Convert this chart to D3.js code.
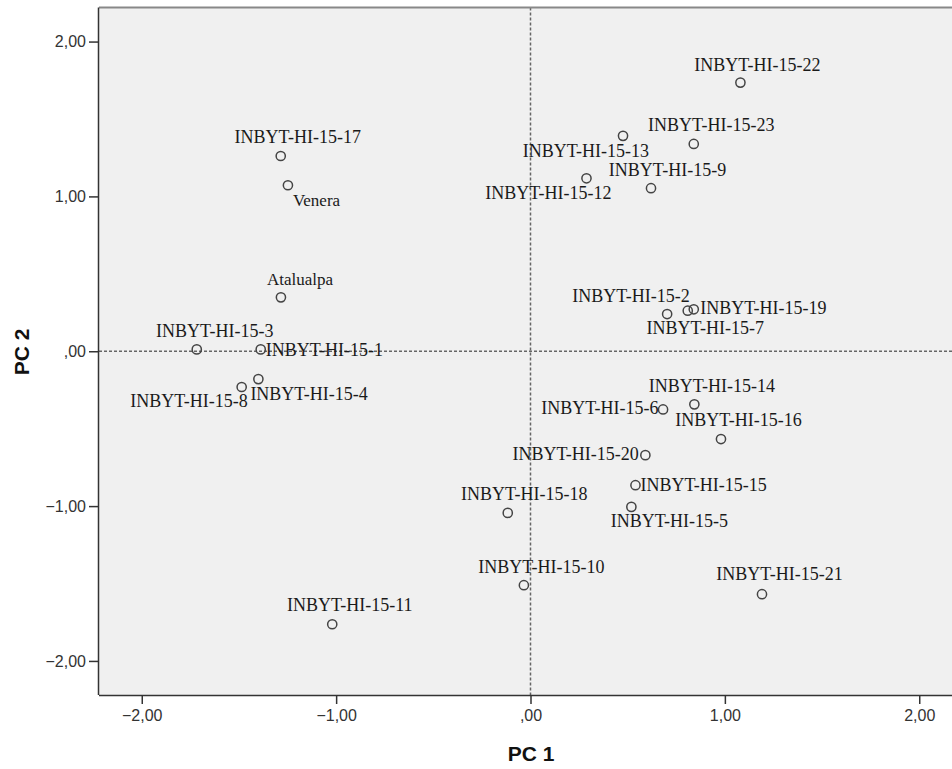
<!DOCTYPE html>
<html>
<head>
<meta charset="utf-8">
<script src="https://cdn.jsdelivr.net/npm/d3@7"></script>
<style>
  html, body { margin: 0; padding: 0; background: #ffffff; }
  svg { display: block; }
</style>
</head>
<body>
<svg id="chart" width="952" height="769"></svg>
<script>
// Genotype labels and their scores on the first two principal components
const genotypes = [
  "INBYT-HI-15-17", "Venera", "Atalualpa", "INBYT-HI-15-3", "INBYT-HI-15-1",
  "INBYT-HI-15-4", "INBYT-HI-15-8", "INBYT-HI-15-22", "INBYT-HI-15-23",
  "INBYT-HI-15-13", "INBYT-HI-15-9", "INBYT-HI-15-12", "INBYT-HI-15-2",
  "INBYT-HI-15-19", "INBYT-HI-15-7", "INBYT-HI-15-14", "INBYT-HI-15-6",
  "INBYT-HI-15-16", "INBYT-HI-15-20", "INBYT-HI-15-15", "INBYT-HI-15-5",
  "INBYT-HI-15-18", "INBYT-HI-15-10", "INBYT-HI-15-21", "INBYT-HI-15-11"
];
const pc1 = [
  -1.285, -1.248, -1.284, -1.717, -1.388,
  -1.400, -1.486, 1.080, 0.840,
  0.476, 0.620, 0.288, 0.703,
  0.840, 0.809, 0.843, 0.682,
  0.980, 0.591, 0.540, 0.519,
  -0.117, -0.034, 1.191, -1.020
];
const pc2 = [
  1.261, 1.072, 0.348, 0.012, 0.012,
  -0.180, -0.231, 1.735, 1.339,
  1.391, 1.053, 1.117, 0.240,
  0.271, 0.262, -0.343, -0.376,
  -0.567, -0.671, -0.865, -1.005,
  -1.044, -1.511, -1.569, -1.763
];
const tickValues = [-2, -1, 0, 1, 2];

// Where each point label sits relative to its marker: [text-anchor, dx, dy]
const labelLayout = [
  ["middle", 17, -13], ["start", 5, 21], ["middle", 19, -12], ["middle", 18, -12.5], ["start", 5, 6.5],
  ["start", -8, 21], ["end", 6, 20], ["middle", 17, -12], ["middle", 17.5, -12.5],
  ["end", 26, 21.5], ["middle", 16.5, -12.5], ["end", 25, 21], ["end", 22.5, -12.5],
  ["start", 6.5, 5], ["middle", 17.5, 23.5], ["middle", 17.5, -12.5], ["end", -4.5, 4.5],
  ["middle", 17.5, -13.5], ["end", -6.5, 4.5], ["start", 5, 5.5], ["middle", 38, 20.5],
  ["middle", 16.5, -12.5], ["middle", 17.5, -12.5], ["middle", 17.5, -14], ["middle", 17.5, -13.5]
];

const svg = d3.select("#chart");
const plotL = 99, plotT = 7.5, plotR = 962, plotB = 695;

const x = d3.scaleLinear().domain([-2.22, 2.22]).range([plotL, plotR]);
const y = d3.scaleLinear().domain([-2.22, 2.22]).range([plotB, plotT]);

const fmt = d => d === 0 ? ",00" : d3.format(".2f")(d).replace(".", ",");

// plot background
svg.append("rect")
  .attr("x", plotL).attr("y", plotT)
  .attr("width", plotR - plotL).attr("height", plotB - plotT)
  .attr("fill", "#f0f0f0");

// reference lines through the origin
svg.append("line")
  .attr("x1", x(0)).attr("x2", x(0)).attr("y1", plotT).attr("y2", plotB)
  .attr("stroke", "#666").attr("stroke-width", 1.5).attr("stroke-dasharray", "3,2");
svg.append("line")
  .attr("x1", plotL).attr("x2", plotR).attr("y1", y(0)).attr("y2", y(0))
  .attr("stroke", "#666").attr("stroke-width", 1.5).attr("stroke-dasharray", "3,2");

// frame top edge
svg.append("line").attr("x1", plotL).attr("x2", plotR).attr("y1", plotT).attr("y2", plotT)
  .attr("stroke", "#888").attr("stroke-width", 2);

// axes
const xAxis = svg.append("g")
  .attr("transform", `translate(0,${plotB})`)
  .call(d3.axisBottom(x).tickValues(tickValues).tickFormat(fmt).tickSize(9).tickPadding(6));
const yAxis = svg.append("g")
  .attr("transform", `translate(${plotL},0)`)
  .call(d3.axisLeft(y).tickValues(tickValues).tickFormat(fmt).tickSize(10).tickPadding(3));

[xAxis, yAxis].forEach(g => {
  g.select(".domain").attr("stroke", "#333").attr("stroke-width", 1.5);
  g.selectAll(".tick line").attr("stroke", "#333").attr("stroke-width", 1.5);
  g.selectAll(".tick text")
    .attr("fill", "#333")
    .style("font-family", "'Liberation Sans', Arial, sans-serif")
    .style("font-size", "16px");
});
xAxis.select(".domain").attr("d", `M${plotL},0.5H${plotR}`);
yAxis.select(".domain").attr("d", `M-0.5,${plotT}V${plotB}`);

// points
const rows = genotypes.map((g, i) => ({ name: g, a: pc1[i], b: pc2[i], lay: labelLayout[i] }));

svg.append("g").selectAll("circle")
  .data(rows).join("circle")
  .attr("cx", d => x(d.a)).attr("cy", d => y(d.b))
  .attr("r", 4.6)
  .attr("fill", "none")
  .attr("stroke", "#444")
  .attr("stroke-width", 1.5);

svg.append("g").selectAll("text")
  .data(rows).join("text")
  .attr("x", d => x(d.a) + d.lay[1])
  .attr("y", d => y(d.b) + d.lay[2])
  .attr("text-anchor", d => d.lay[0])
  .attr("fill", "#1a1a1a")
  .style("font-family", "'Liberation Serif', 'Times New Roman', serif")
  .style("font-size", d => d.name.startsWith("INBYT") ? "18px" : "17px")
  .text(d => d.name);

// axis titles
svg.append("text")
  .attr("x", 531).attr("y", 761)
  .attr("text-anchor", "middle")
  .style("font-family", "'Liberation Sans', Arial, sans-serif")
  .style("font-size", "21px").style("font-weight", "bold")
  .attr("fill", "#111")
  .text("PC 1");
svg.append("text")
  .attr("transform", `translate(29,352) rotate(-90)`)
  .attr("text-anchor", "middle")
  .style("font-family", "'Liberation Sans', Arial, sans-serif")
  .style("font-size", "21px").style("font-weight", "bold")
  .attr("fill", "#111")
  .text("PC 2");
</script>
</body>
</html>
